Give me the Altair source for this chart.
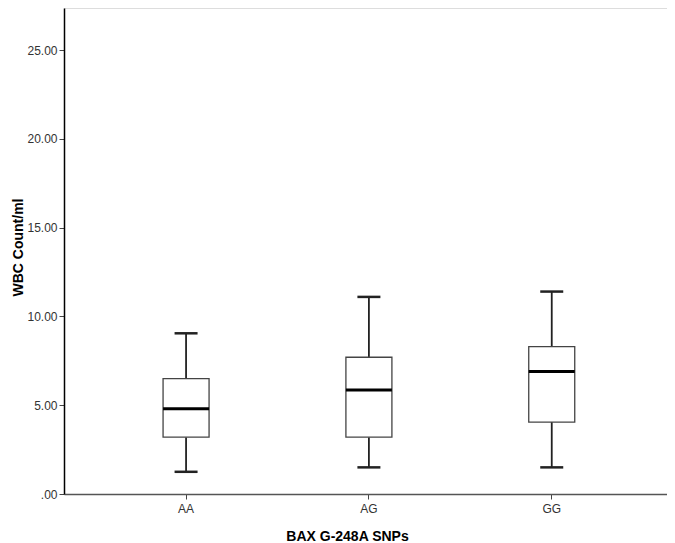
import altair as alt
import pandas as pd

# Data
genotypes = ["AA", "AG", "GG"]
whisker_low = [1.25, 1.5, 1.5]
q1 = [3.2, 3.2, 4.05]
median = [4.8, 5.85, 6.9]
q3 = [6.5, 7.7, 8.3]
whisker_high = [9.05, 11.1, 11.4]
y_ticks = [0, 5, 10, 15, 20, 25]

df = pd.DataFrame({
    "g": genotypes, "lo": whisker_low, "q1": q1,
    "med": median, "q3": q3, "hi": whisker_high,
})

FONT = "Liberation Sans"

x_enc = alt.X(
    "g:N",
    scale=alt.Scale(type="band", paddingInner=0, paddingOuter=0.149, align=0.5625),
    sort=genotypes,
    axis=alt.Axis(
        title="BAX G-248A SNPs", titleFont=FONT, titleFontSize=14,
        titleFontWeight="bold", titleColor="black",
        titleX=283, titleY=42, titleBaseline="middle",
        labelFont=FONT, labelFontSize=12, labelColor="#333", labelAngle=0,
        labelPadding=4, tickSize=5, tickColor="#444", domainColor="#555",
        domainWidth=1.5, grid=False, bandPosition=0.5,
    ),
)

y_scale = alt.Scale(domain=[0, 27.37], nice=False, zero=True)
y_axis = alt.Axis(
    values=y_ticks,
    labelExpr="datum.value == 0 ? '.00' : format(datum.value, '.2f')",
    title="WBC Count/ml", titleFont=FONT, titleFontSize=14,
    titleFontWeight="bold", titleColor="black",
    titleX=-46, titleY=239, titleBaseline="middle",
    labelFont=FONT, labelFontSize=12, labelColor="#333",
    labelPadding=2, tickSize=5, tickColor="#444", domainColor="black",
    domainWidth=1.5, grid=False,
)

base = alt.Chart(df)

lower = base.mark_rule(color="#222", strokeWidth=1.8).encode(
    x=x_enc, y=alt.Y("lo:Q", scale=y_scale, axis=y_axis), y2="q1:Q"
)
upper = base.mark_rule(color="#222", strokeWidth=1.8).encode(
    x=x_enc, y=alt.Y("q3:Q", scale=y_scale), y2="hi:Q"
)
cap_lo = base.mark_tick(color="#222", size=23, thickness=2.5, opacity=1, orient="horizontal").encode(
    x=x_enc, y=alt.Y("lo:Q", scale=y_scale)
)
cap_hi = base.mark_tick(color="#222", size=23, thickness=2.5, opacity=1, orient="horizontal").encode(
    x=x_enc, y=alt.Y("hi:Q", scale=y_scale)
)
box = base.mark_bar(size=46, fill="white", stroke="#444", strokeWidth=1.3, opacity=1).encode(
    x=x_enc, y=alt.Y("q1:Q", scale=y_scale), y2="q3:Q"
)
med = base.mark_tick(color="black", size=46, thickness=3, opacity=1, orient="horizontal").encode(
    x=x_enc, y=alt.Y("med:Q", scale=y_scale)
)

chart = alt.layer(lower, upper, cap_lo, cap_hi, box, med).properties(
    width=603, height=486,
    autosize=alt.AutoSizeParams(type="none"),
    padding={"left": 56, "top": 0, "right": 0, "bottom": 49},
).configure_view(
    stroke="#8a8a8a", strokeWidth=2
).configure(background="white")

chart.save("out.html", embed_options={"renderer": "svg", "actions": False})
